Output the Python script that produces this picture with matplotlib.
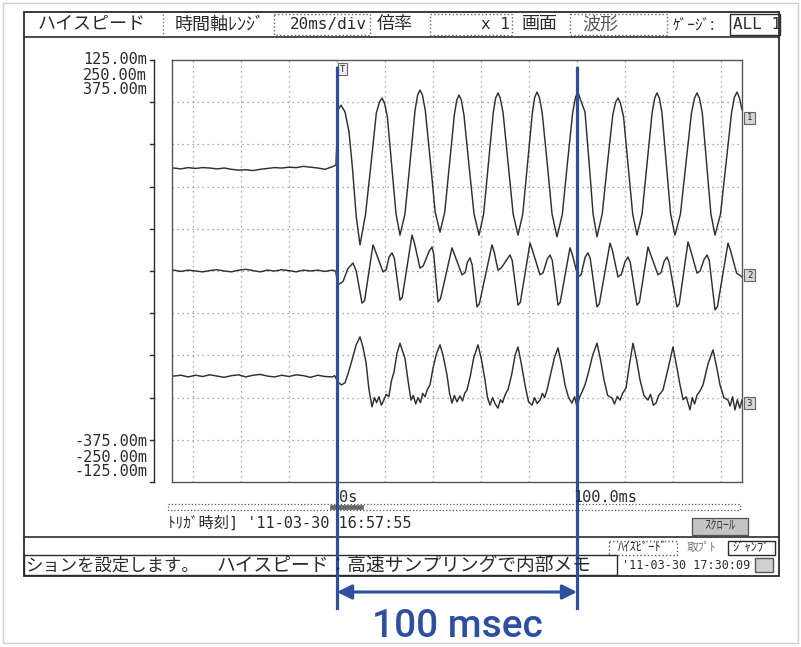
import matplotlib.pyplot as plt
import numpy as np
from matplotlib.patches import Rectangle
from matplotlib.transforms import blended_transform_factory

W, H = 801, 647
JP = ["Noto Sans CJK JP", "DejaVu Sans"]
MONO = ["DejaVu Sans Mono", "Noto Sans CJK JP"]
INK = "#2b2b2b"
BLUE = "#2d4f9e"

# time axis (ms) and amplitude (div, 0 = screen centre)
T_MIN, T_MAX = -68.75, 168.75
V_MIN, V_MAX = -5, 5
grid_t = [-60, -40, -20, 0, 20, 40, 60, 80, 100, 120, 140, 160]
grid_v = [-4, -3, -2, -1, 0, 1, 2, 3, 4]
cursor_t = [0, 100]

scale_top = ["125.00m", "250.00m", "375.00m"]
scale_bottom = ["-375.00m", "-250.00m", "-125.00m"]

pre_t = [-68, -65, -62, -59, -56, -53, -50, -47, -44, -41, -38, -35, -32, -29,
         -26, -23, -20, -17, -14, -11, -8, -5, -2]
ch1_pre = [2.44, 2.42, 2.45, 2.43, 2.45, 2.44, 2.42, 2.44, 2.41, 2.39, 2.40, 2.38,
           2.41, 2.43, 2.45, 2.44, 2.46, 2.45, 2.48, 2.46, 2.44, 2.41, 2.47]
ch2_pre = [0.02, -0.01, 0.02, 0.00, -0.02, 0.01, 0.03, 0.00, -0.02, 0.02, 0.04, 0.01,
           -0.02, 0.02, 0.00, 0.03, 0.01, -0.02, 0.02, 0.00, 0.02, -0.01, 0.02]
ch3_pre = [-2.49, -2.47, -2.51, -2.47, -2.50, -2.46, -2.49, -2.52, -2.48, -2.46, -2.51,
           -2.47, -2.45, -2.49, -2.51, -2.47, -2.50, -2.46, -2.48, -2.52, -2.47, -2.50, -2.51]

ch1_t = [-0.42, 0.42, 1.67, 3.33, 5.0, 6.5, 8.0, 9.58,
         11.9, 14.2, 16.4, 17.7, 18.75, 19.8, 21.0, 22.8, 24.6, 26.25,
         28.3, 30.4, 32.5, 33.6, 34.58, 35.6, 36.8, 38.9, 40.9, 42.92,
         44.9, 46.9, 48.9, 49.9, 50.83, 51.8, 52.9, 55.0, 57.1, 59.17,
         61.1, 63.1, 65.1, 66.1, 67.08, 68.0, 69.2, 71.3, 73.4, 75.42,
         77.4, 79.4, 81.4, 82.4, 83.33, 84.3, 85.5, 87.6, 89.6, 91.67,
         93.9, 96.0, 98.2, 99.4, 100.42, 101.5, 103.33, 105.0, 106.7, 108.33,
         110.5, 112.7, 114.9, 116.1, 117.08, 118.1, 119.4, 121.3, 123.2, 125.0,
         127.1, 129.2, 131.3, 132.4, 133.33, 134.3, 135.4, 137.2, 139.0, 140.83,
         143.1, 145.4, 147.7, 149.0, 150.0, 151.0, 152.2, 154.0, 155.8, 157.5,
         159.8, 162.1, 164.4, 165.6, 166.67, 167.7, 168.75]
ch1_v = [2.51, 3.82, 3.93, 3.77, 3.30, 2.40, 1.30, 0.62,
         1.35, 2.55, 3.75, 4.00, 4.10, 3.98, 3.65, 2.50, 1.35, 0.85,
         1.35, 2.55, 3.80, 4.17, 4.29, 4.17, 3.80, 2.60, 1.40, 0.92,
         1.40, 2.55, 3.70, 4.05, 4.17, 4.05, 3.70, 2.50, 1.35, 0.85,
         1.35, 2.55, 3.75, 4.10, 4.22, 4.10, 3.75, 2.55, 1.35, 0.85,
         1.35, 2.55, 3.75, 4.12, 4.24, 4.12, 3.75, 2.55, 1.35, 0.81,
         1.35, 2.55, 3.75, 4.12, 4.24, 4.05, 3.77, 2.60, 1.35, 0.81,
         1.35, 2.55, 3.70, 4.00, 4.10, 3.98, 3.65, 2.50, 1.35, 0.85,
         1.35, 2.55, 3.75, 4.10, 4.22, 4.10, 3.75, 2.55, 1.35, 0.85,
         1.35, 2.55, 3.75, 4.10, 4.22, 4.10, 3.75, 2.55, 1.35, 0.85,
         1.35, 2.55, 3.75, 4.12, 4.24, 4.10, 3.82]

ch2_t = [-0.5, 0.42, 2.5, 4.5, 6.67, 8.0, 10.42, 11.5,
         15.0, 16.0, 19.17, 20.5, 21.7, 22.92, 23.9, 26.25, 27.2,
         31.25, 32.2, 34.58, 35.9, 38.4, 39.58, 40.3, 42.08, 43.1,
         47.92, 48.9, 52.08, 53.4, 54.3, 55.42, 56.3, 58.33, 59.3,
         64.58, 65.5, 67.08, 68.4, 70.9, 72.08, 73.0, 75.42, 76.4,
         80.42, 81.4, 84.58, 85.9, 87.6, 88.75, 89.7, 92.08, 93.0,
         97.08, 98.0, 100.42, 101.7, 103.4, 104.58, 105.5, 108.33, 109.3,
         113.75, 114.7, 117.08, 118.4, 120.1, 121.25, 122.2, 125.0, 126.0,
         129.58, 130.5, 133.75, 135.0, 136.3, 137.5, 138.4, 141.67, 142.6,
         146.25, 147.2, 150.0, 151.3, 153.0, 154.17, 155.1, 157.5, 158.5,
         162.92, 163.9, 166.5, 168.75]
ch2_v = [-0.02, -0.33, -0.25, 0.05, 0.19, 0.00, -0.76, -0.70,
         0.62, 0.47, -0.02, 0.03, 0.33, 0.43, 0.30, -0.69, -0.62,
         0.85, 0.68, 0.07, 0.12, 0.47, 0.57, 0.40, -0.73, -0.66,
         0.55, 0.40, -0.09, -0.04, 0.20, 0.31, 0.15, -0.85, -0.78,
         0.62, 0.45, 0.02, 0.07, 0.28, 0.38, 0.25, -0.81, -0.74,
         0.66, 0.50, -0.09, -0.04, 0.28, 0.38, 0.25, -0.81, -0.74,
         0.55, 0.40, -0.14, -0.09, 0.33, 0.43, 0.30, -0.85, -0.78,
         0.66, 0.50, -0.14, -0.09, 0.23, 0.33, 0.20, -0.81, -0.74,
         0.57, 0.42, -0.09, -0.04, 0.23, 0.33, 0.20, -0.85, -0.78,
         0.69, 0.52, -0.05, 0.00, 0.28, 0.38, 0.25, -0.92, -0.85,
         0.66, 0.50, -0.05, -0.14]

ch3_t = [0.42, 1.8, 3.33, 4.8, 6.25, 8.0, 9.58, 10.8, 12.08, 13.3, 14.58, 15.6,
         16.5, 17.5, 18.5, 19.6, 20.5, 21.6, 22.7, 23.75, 25.0, 26.25, 27.3, 28.3,
         29.6, 30.83, 31.8, 32.8, 33.75, 34.8, 35.7, 36.67, 37.7, 38.75, 40.0, 41.5,
         42.92, 44.2, 45.83, 46.9, 47.92, 48.9, 50.0, 51.25, 52.3, 53.2, 54.17, 55.5,
         57.0, 58.75, 60.2, 61.67, 62.7, 63.75, 64.8, 65.9, 67.08, 68.1, 69.0, 70.0,
         71.3, 72.8, 74.2, 75.42, 76.8, 78.33, 79.8, 81.25, 82.3, 83.4, 84.58, 85.6,
         86.5, 87.5, 89.0, 90.6, 92.08, 93.5, 95.0, 96.5, 97.92, 99.0, 100.0, 101.0,
         102.2, 103.33, 104.8, 106.5, 108.33, 109.8, 111.25, 112.8, 114.58, 115.6,
         116.8, 117.92, 119.0, 120.42, 121.9, 123.33, 124.8, 126.25, 127.9, 129.58,
         130.6, 131.8, 132.92, 134.0, 135.83, 138.0, 140.0, 141.5, 142.92, 144.2,
         145.5, 147.08, 148.0, 149.0, 150.0, 151.2, 152.5, 154.6, 156.67, 158.1,
         159.58, 161.2, 162.92, 163.8, 164.8, 165.83, 166.8, 167.8, 168.75]
ch3_v = [-2.63, -2.70, -2.65, -2.40, -2.11, -1.75, -1.56, -1.80, -2.16, -2.80, -3.22, -3.00,
         -3.12, -2.98, -3.18, -3.05, -2.92, -2.98, -2.60, -2.39, -1.95, -1.71, -1.90, -2.06,
         -2.60, -3.06, -2.95, -3.15, -3.00, -3.12, -2.90, -2.98, -2.80, -2.70, -2.30, -1.95,
         -1.75, -2.00, -2.46, -2.90, -3.13, -2.95, -3.10, -2.96, -3.08, -2.90, -2.82, -2.50,
         -2.05, -1.75, -2.10, -2.58, -3.00, -3.18, -3.00, -3.15, -3.25, -3.05, -3.12, -2.94,
         -2.80, -2.45, -2.00, -1.80, -2.20, -2.70, -3.10, -3.18, -3.00, -3.14, -3.06, -2.90,
         -3.00, -2.82, -2.45, -2.05, -1.82, -2.20, -2.70, -3.00, -3.13, -2.98, -3.22, -3.00,
         -2.85, -2.70, -2.40, -2.00, -1.71, -2.10, -2.58, -2.95, -3.01, -3.15,
         -2.97, -3.06, -2.90, -2.77, -2.20, -1.71, -2.10, -2.58, -2.95, -3.06,
         -2.92, -3.18, -3.13, -2.95, -2.82, -2.30, -1.80, -2.25, -2.70, -3.05,
         -2.98, -3.29, -3.00, -3.15, -2.94, -2.85, -2.70, -2.20, -1.87, -2.25,
         -2.70, -3.00, -3.06, -3.20, -2.98, -3.29, -3.05, -3.25, -3.06]

fig = plt.figure(figsize=(W / 100, H / 100), dpi=100)
ax = fig.add_axes([172 / W, 1 - 482 / H, 570 / W, 422 / H])
ov = fig.add_axes([0, 0, 1, 1])
ov.set_xlim(0, W)
ov.set_ylim(H, 0)
ov.axis("off")

# waveform area
for t, v in [(pre_t + ch1_t, ch1_pre + ch1_v),
             (pre_t + [-1.0] + ch2_t, ch2_pre + [0.01] + ch2_v),
             (pre_t + [-1.0] + ch3_t, ch3_pre + [-2.48] + ch3_v)]:
    ax.plot(np.array(t), np.array(v), color="#303030", lw=1.05)
ax.set_xlim(T_MIN, T_MAX)
ax.set_ylim(V_MIN, V_MAX)
ax.set_xticks(grid_t)
ax.set_yticks(grid_v)
ax.tick_params(length=0, labelbottom=False, labelleft=False)
ax.grid(True, ls=(0, (1, 3)), color="#8c8c8c", lw=0.9)
for s in ax.spines.values():
    s.set_color("#555555")
    s.set_linewidth(1.0)

# left scale bar
lt = blended_transform_factory(ax.transAxes, ax.transData)
sx = -18 / 570
ax.plot([sx, sx], [V_MIN, V_MAX], color=INK, lw=1, transform=lt, clip_on=False)
for v in range(V_MIN, V_MAX + 1):
    ax.plot([sx - 4 / 570, sx], [v, v], color=INK, lw=1, transform=lt, clip_on=False)
for i, s in enumerate(scale_top):
    ov.text(147, 60 + i * 15, s, family=MONO, fontsize=11, ha="right", va="center", color=INK)
for i, s in enumerate(scale_bottom):
    ov.text(147, 442 + i * 15, s, family=MONO, fontsize=11, ha="right", va="center", color=INK)


def box(x0, y0, x1, y1, ls="-", fc="none", ec=INK, lw=1.0):
    ov.add_patch(Rectangle((x0, y0), x1 - x0, y1 - y0, fill=fc != "none",
                           facecolor=fc, edgecolor=ec, lw=lw, ls=ls))


def txt(x, y, s, size=13, fam=JP, ha="left", color=INK):
    ov.text(x, y, s, family=fam, fontsize=size, ha=ha, va="center", color=color)


# outer image border and instrument screen frame
box(3, 3, 798, 643, ec="#cfcfcf")
box(24, 12, 779, 576, lw=1.3)
ov.plot([24, 779], [37, 37], color=INK, lw=1.2)

# header
txt(38, 24.5, "ハイスピード")
ov.plot([163, 163], [14, 35], color="#777", lw=1, ls=":")
txt(175, 24.5, "時間軸ﾚﾝｼﾞ")
box(274, 14, 370, 35, ls=":", ec="#666")
txt(367, 24.5, "20ms/div", 11.5, MONO, ha="right")
txt(377, 24.5, "倍率")
box(430, 14, 512, 35, ls=":", ec="#666")
txt(510, 24.5, "x 1", 11.5, MONO, ha="right")
txt(522, 24.5, "画面")
box(570, 14, 667, 35, ls=":", ec="#666")
txt(582, 24.5, "波形", color="#555")
txt(673, 24.5, "ｹﾞｰｼﾞ:", 11)
box(730, 14, 780, 35)
txt(733, 24.5, "ALL 1", 11.5, MONO)

# markers on the waveform area
box(338, 63, 347, 75, ec="#666", fc="#eeeeee", lw=0.8)
txt(342.5, 69, "T", 6.5, MONO, ha="center")
for y, n in [(118, "1"), (275, "2"), (403, "3")]:
    box(744, y - 6, 755, y + 6, ec="#666", fc="#d6d6d6", lw=0.8)
    txt(749.5, y, n, 6.5, MONO, ha="center")

# time labels, scroll bar, trigger time
txt(339, 497, "0s", 11, MONO)
txt(573, 498, "100.0ms", 11, MONO)
box(168, 504, 740, 510, ls=":", ec="#555", lw=0.9)
box(330, 505, 363, 509, fc="#666", ec="#666", lw=0.5)
txt(168, 523, "ﾄﾘｶﾞ時刻] '11-03-30 16:57:55", 11, MONO)
box(692, 518, 748, 535, fc="#c4c4c4", ec="#555", lw=0.9)
txt(720, 526.5, "ｽｸﾛｰﾙ", 9, ha="center", color="#444")
ov.plot([24, 779], [537, 537], color=INK, lw=1.2)

# buttons and status line
box(609, 541, 677, 555, ls=":", ec="#555")
txt(643, 548, "ﾊｲｽﾋﾟｰﾄﾞ", 9, ha="center")
txt(687, 548, "取ﾌﾟﾄ", 8.5, color="#777")
box(728, 541, 775, 555)
txt(751.5, 548, "ｼﾞｬﾝﾌﾟ", 9, ha="center")
box(24, 555, 617, 575)
txt(25, 565.5, "ションを設定します。", 12.5)
txt(217, 565.5, "ハイスピード：高速サンプリングで内部メモ", 13.5)
txt(622, 565.5, "'11-03-30 17:30:09", 8.5, MONO)
box(755, 558, 773, 572, fc="#d0d0d0", ec="#555")

# blue 100 msec annotation, placed on the time axis
bt = blended_transform_factory(ax.transData, ov.transData)
for t in cursor_t:
    ov.plot([t, t], [68, 608], color=BLUE, lw=2.3, transform=bt, clip_on=False)
ov.annotate("", xy=(cursor_t[1], 592), xytext=(cursor_t[0], 592),
            xycoords=bt, textcoords=bt,
            arrowprops=dict(arrowstyle="<|-|>", color=BLUE, lw=2.2,
                            mutation_scale=22, shrinkA=0, shrinkB=0))
ov.text(sum(cursor_t) / 2, 637, "100 msec", transform=bt, ha="center", va="baseline",
        family=["Roboto", "DejaVu Sans"], fontweight="medium", fontsize=28, color=BLUE)

fig.savefig("out.png", dpi=100)
